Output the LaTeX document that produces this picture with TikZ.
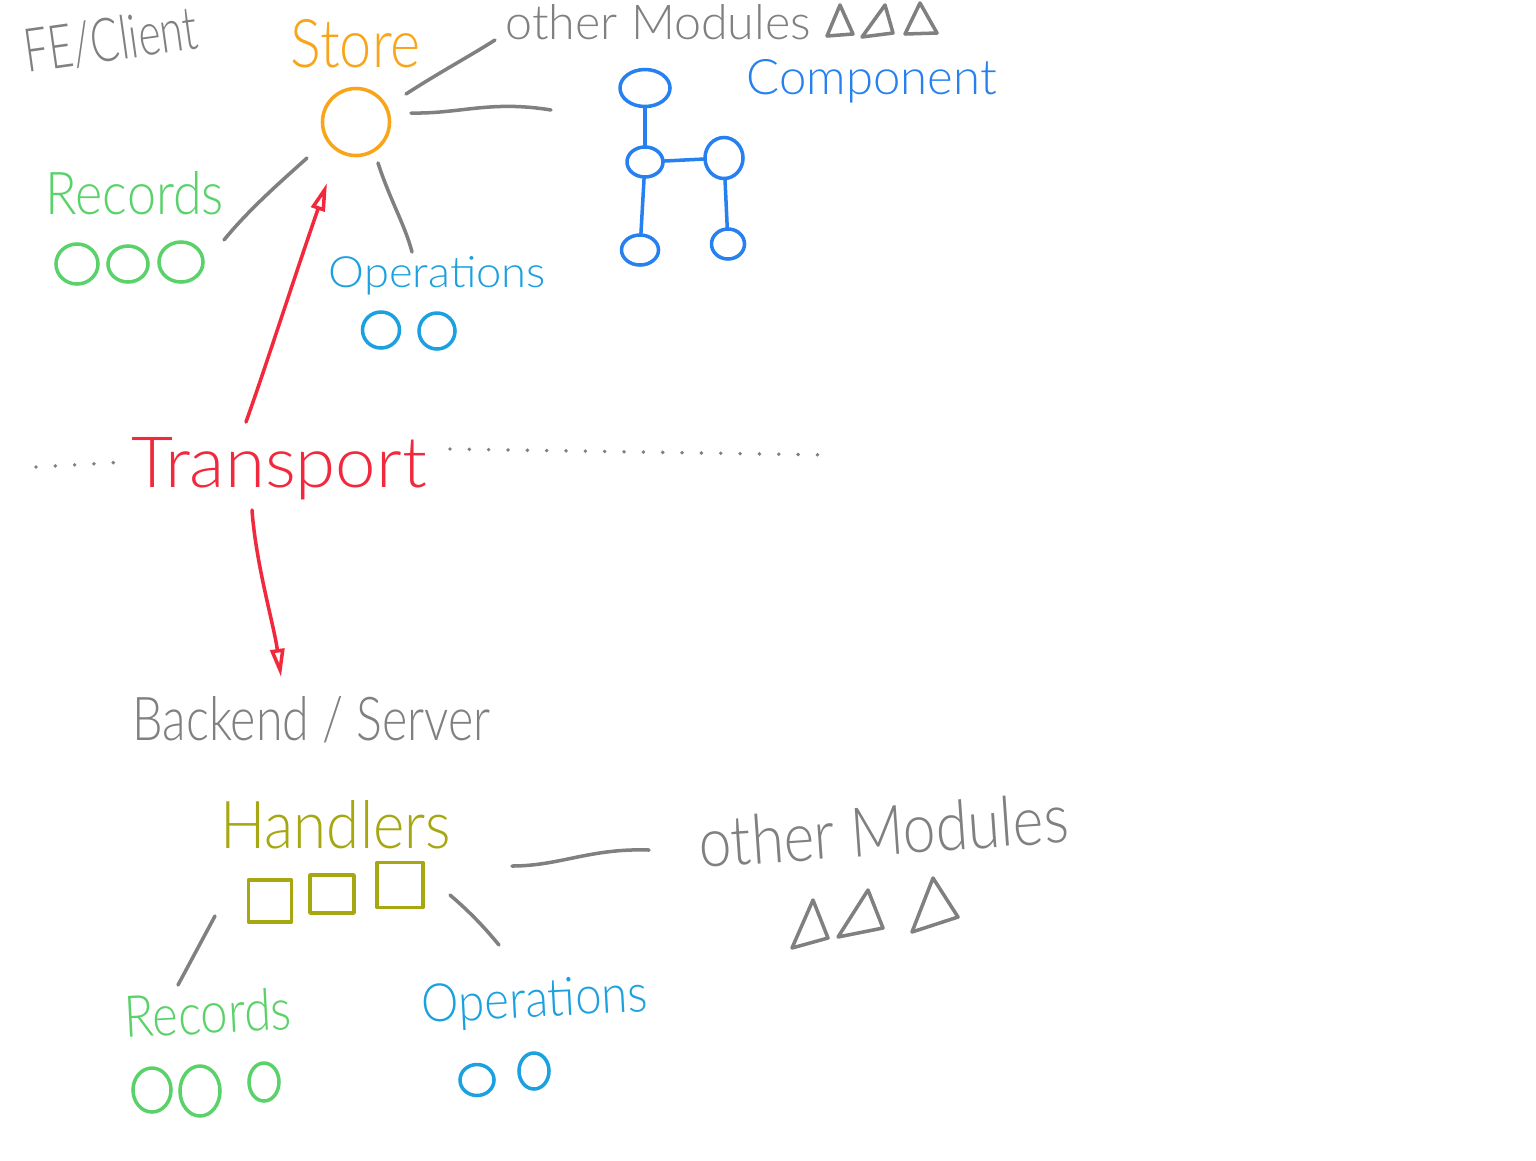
\documentclass[tikz,border=0pt]{standalone}
\usepackage{fontspec}
\setmainfont{Lato Light}
\usetikzlibrary{arrows.meta,shapes.geometric}
\definecolor{skgray}{HTML}{808080}
\definecolor{skorange}{HTML}{F9A51A}
\definecolor{skgreen}{HTML}{5AD26A}
\definecolor{skblue}{HTML}{1BA0E0}
\definecolor{skblueC}{HTML}{2680F0}
\definecolor{skred}{HTML}{F2283C}
\definecolor{skolive}{HTML}{A7A712}
\newcommand{\hwtext}[3]{\resizebox{#1cm}{#2cm}{#3}}
\tikzset{
  base/.style={line width=1pt, line cap=round, line join=round},
  conn/.style={base, draw=skgray},
  txt/.style={inner sep=0pt, anchor=base west},
  blob/.style={ellipse, draw, base, inner sep=0pt},
  sqbox/.style={rectangle, draw=skolive, base, inner sep=0pt},
  redarrow/.style={base, draw=skred, -{Triangle[open, length=8pt, width=4pt]}},
  dotline/.style={draw=skgray, line width=1.1pt, line cap=round, dash pattern=on 0pt off 5.5pt},
  tri/.style={base, draw=skgray},
  compedge/.style={base, draw=skblueC}
}
\begin{document}
\begin{tikzpicture}[x=0.01cm, y=-0.01cm]
\useasboundingbox[fill=white] (0,0) rectangle (1536,1160);

% ---------- FE / Client ----------
\node[txt, text=skgray, rotate=8] (fe) at (27,73) {\hwtext{1.74}{0.44}{FE/Client}};
\node[txt, text=skorange] (storelbl) at (290,67) {\hwtext{1.30}{0.48}{Store}};
\node[blob, draw=skorange, minimum width=0.67cm, minimum height=0.67cm] (store) at (356,122) {};

\node[txt, text=skgray] (omtop) at (505,39) {\hwtext{3.05}{0.35}{other Modules}};
\draw[tri] (827,36) -- (840,5) -- (853,34) -- cycle;
\draw[tri] (862,37) -- (885,5) -- (893,33) -- cycle;
\draw[tri] (905,34) -- (920,3) -- (937,33) -- cycle;

\node[txt, text=skblueC] (complbl) at (746,94) {\hwtext{2.50}{0.35}{Component}};
\node[blob, draw=skblueC, minimum width=0.50cm, minimum height=0.37cm] (ct) at (645,88) {};
\node[blob, draw=skblueC, minimum width=0.36cm, minimum height=0.30cm] (cml) at (645,162) {};
\node[blob, draw=skblueC, minimum width=0.38cm, minimum height=0.41cm] (cmr) at (724,158) {};
\node[blob, draw=skblueC, minimum width=0.37cm, minimum height=0.30cm] (cbl) at (640,250) {};
\node[blob, draw=skblueC, minimum width=0.33cm, minimum height=0.30cm] (cbr) at (728,244) {};
\draw[compedge] (ct) -- (cml);
\draw[compedge] (cml) -- (cmr);
\draw[compedge] (cml) -- (cbl);
\draw[compedge] (cmr) -- (cbr);

\node[txt, text=skgreen] (rectop) at (45,214) {\hwtext{1.78}{0.43}{Records}};
\node[blob, draw=skgreen, minimum width=0.42cm, minimum height=0.40cm] (r1) at (77,264) {};
\node[blob, draw=skgreen, minimum width=0.40cm, minimum height=0.36cm] (r2) at (128,264) {};
\node[blob, draw=skgreen, minimum width=0.44cm, minimum height=0.40cm] (r3) at (181,262) {};

\node[txt, text=skblue] (opstop) at (328,287) {\hwtext{2.17}{0.31}{Operations}};
\node[blob, draw=skblue, minimum width=0.37cm, minimum height=0.36cm] (o1) at (381,330) {};
\node[blob, draw=skblue, minimum width=0.36cm, minimum height=0.36cm] (o2) at (437,331) {};

% connectors around the store
\coordinate (a1) at (406,94);  \coordinate (a2) at (495,40);
\draw[conn] (a1) .. controls (440,72) and (470,56) .. (a2);
\coordinate (b1) at (411,113); \coordinate (b2) at (551,110);
\draw[conn] (b1) .. controls (460,114) and (490,100) .. (b2);
\coordinate (c1) at (307,158); \coordinate (c2) at (224,240);
\draw[conn] (c1) .. controls (285,178) and (250,208) .. (c2);
\coordinate (d1) at (378,163); \coordinate (d2) at (412,252);
\draw[conn] (d1) .. controls (390,200) and (405,225) .. (d2);

% ---------- Transport ----------
\draw[dotline] (36,467) -- (125,462);
\draw[dotline] (450,449) -- (830,455);
\node[txt, text=skred] (transport) at (131,487) {\hwtext{2.95}{0.50}{Transport}};
\coordinate (t1) at (246,422); \coordinate (t2) at (327,183);
\draw[redarrow] (t1) .. controls (268,360) and (290,290) .. (t2);
\coordinate (u1) at (252,510); \coordinate (u2) at (281,677);
\draw[redarrow] (u1) .. controls (256,565) and (274,625) .. (u2);

% ---------- Backend / Server ----------
\node[txt, text=skgray] (be) at (132,740) {\hwtext{3.58}{0.44}{Backend / Server}};
\node[txt, text=skolive] (handlers) at (220,848) {\hwtext{2.30}{0.48}{Handlers}};
\node[sqbox, minimum width=0.43cm, minimum height=0.42cm] (h1) at (270,901) {};
\node[sqbox, minimum width=0.44cm, minimum height=0.38cm] (h2) at (332,894) {};
\node[sqbox, minimum width=0.46cm, minimum height=0.45cm] (h3) at (400,885) {};

\coordinate (e1) at (215,916); \coordinate (e2) at (178,985);
\draw[conn] (e1) -- (e2);
\coordinate (f1) at (450,895); \coordinate (f2) at (499,945);
\draw[conn] (f1) .. controls (470,912) and (485,928) .. (f2);
\coordinate (g1) at (512,866); \coordinate (g2) at (649,850);
\draw[conn] (g1) .. controls (560,866) and (590,848) .. (g2);

\node[txt, text=skgray, rotate=4] (ombot) at (700,868) {\hwtext{3.70}{0.50}{other Modules}};
\draw[tri] (792,948) -- (813,900) -- (828,938) -- cycle;
\draw[tri] (838,937) -- (868,890) -- (883,928) -- cycle;
\draw[tri] (912,932) -- (933,878) -- (958,917) -- cycle;

\node[txt, text=skgreen, rotate=3] (recbot) at (125,1038) {\hwtext{1.67}{0.42}{Records}};
\node[blob, draw=skgreen, minimum width=0.38cm, minimum height=0.44cm] (rb1) at (152,1090) {};
\node[blob, draw=skgreen, minimum width=0.40cm, minimum height=0.50cm] (rb2) at (200,1091) {};
\node[blob, draw=skgreen, minimum width=0.30cm, minimum height=0.38cm] (rb3) at (264,1082) {};

\node[txt, text=skblue, rotate=3] (opsbot) at (422,1023) {\hwtext{2.26}{0.38}{Operations}};
\node[blob, draw=skblue, minimum width=0.34cm, minimum height=0.31cm] (ob1) at (477,1080) {};
\node[blob, draw=skblue, minimum width=0.30cm, minimum height=0.36cm] (ob2) at (534,1071) {};
\end{tikzpicture}
\end{document}
